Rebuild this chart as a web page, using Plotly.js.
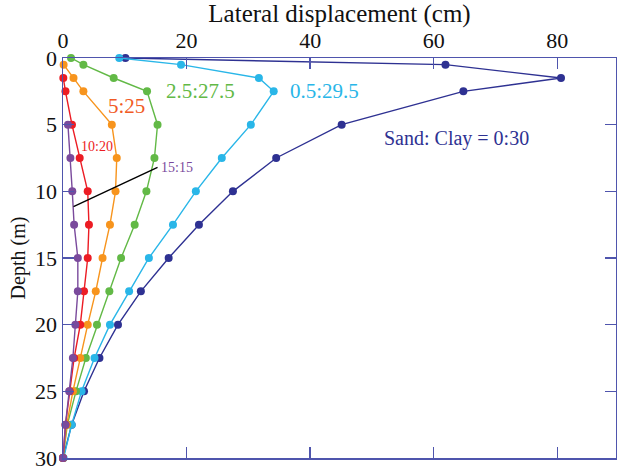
<!DOCTYPE html>
<html>
<head>
<meta charset="utf-8">
<script src="https://cdn.plot.ly/plotly-3.0.1.min.js"></script>
<style>
  html, body { margin: 0; padding: 0; background: #fff; }
  #chart { width: 617px; height: 473px; }
</style>
</head>
<body>
<div id="chart"></div>
<script>
// Depth below ground surface (m) at which lateral displacement was evaluated
const depth = [0, 0.5, 1.5, 2.5, 5, 7.5, 10, 12.5, 15, 17.5, 20, 22.5, 25, 27.5, 30];

// Lateral displacement (cm) for each sand:clay ratio
const disp_0_30    = [10.1, 61.9, 80.6, 64.8, 45.1, 34.5, 27.5, 22.0, 17.1, 12.6, 8.9, 5.9, 3.4, 1.4, 0];
const disp_05_295  = [9.1, 19.1, 31.7, 34.1, 30.4, 25.7, 21.5, 17.8, 13.9, 10.7, 7.6, 5.1, 3.0, 1.4, 0.1];
const disp_25_275  = [1.3, 3.3, 8.2, 13.6, 15.3, 14.8, 13.5, 11.6, 9.4, 7.5, 5.5, 3.7, 2.1, 0.7, 0];
const disp_5_25    = [null, 0.1, 1.7, 3.3, 7.9, 8.7, 8.5, 7.6, 6.4, 5.3, 4.0, 2.8, 1.6, 0.6, 0];
const disp_10_20   = [null, null, 0.05, 0.4, 1.45, 2.7, 4.0, 4.2, 4.0, 3.4, 2.8, 1.8, 1.1, 0.4, 0];
const disp_15_15   = [null, null, null, null, 0.8, 1.2, 1.5, 1.8, 2.4, 2.4, 2.0, 1.6, 1.0, 0.4, 0];

const seriesNames  = ["Sand: Clay = 0:30", "0.5:29.5", "2.5:27.5", "5:25", "10:20", "15:15"];
const xTicks = [0, 20, 40, 60, 80];
const yTicks = [0, 5, 10, 15, 20, 25, 30];

const colors = {
  navy:   "#2e3192",
  cyan:   "#29b6e8",
  green:  "#62b946",
  orange: "#f7941d",
  red:    "#ec1c24",
  purple: "#7a4a9c",
  axis:   "#4f55ad"
};

function profile(x, name, color) {
  return {
    type: "scatter",
    mode: "lines+markers",
    x: x,
    y: depth,
    name: name,
    line: { color: color, width: 1.4 },
    marker: { color: color, size: 8 },
    cliponaxis: false,
    showlegend: false
  };
}

// Drawn back to front so the stiffer profiles sit on top near the axis
const data = [
  profile(disp_0_30,   seriesNames[0], colors.navy),
  profile(disp_05_295, seriesNames[1], colors.cyan),
  profile(disp_25_275, seriesNames[2], colors.green),
  profile(disp_5_25,   seriesNames[3], colors.orange),
  profile(disp_10_20,  seriesNames[4], colors.red),
  profile(disp_15_15,  seriesNames[5], colors.purple)
];

const serif = "Liberation Serif, Times New Roman, serif";

function label(text, x, y, color, size, xanchor) {
  return {
    text: text, x: x, y: y, xref: "x", yref: "y",
    showarrow: false, xanchor: xanchor || "center", yanchor: "middle",
    font: { family: serif, size: size, color: color }
  };
}

const layout = {
  width: 617,
  height: 473,
  margin: { l: 63, r: 1, t: 58, b: 15 },
  paper_bgcolor: "#ffffff",
  plot_bgcolor: "#ffffff",
  font: { family: serif, color: "#111" },
  xaxis: {
    side: "top",
    range: [0, 89.5],
    tickvals: xTicks,
    ticktext: xTicks.map(String),
    ticks: "inside",
    ticklen: 11,
    tickwidth: 1.5,
    tickcolor: colors.axis,
    showline: true,
    linecolor: colors.axis,
    linewidth: 1.5,
    mirror: "ticks",
    showgrid: false,
    zeroline: false,
    tickfont: { family: serif, size: 22, color: "#111" },
    title: { text: "Lateral displacement (cm)", font: { family: serif, size: 25, color: "#111" }, standoff: 0 }
  },
  yaxis: {
    range: [30, 0],
    tickvals: yTicks,
    ticktext: yTicks.map(String),
    ticks: "inside",
    ticklen: 11,
    tickwidth: 1.5,
    tickcolor: colors.axis,
    showline: true,
    linecolor: colors.axis,
    linewidth: 1.5,
    mirror: "ticks",
    showgrid: false,
    zeroline: false,
    tickfont: { family: serif, size: 22, color: "#111" },
    title: { text: "Depth (m)", font: { family: serif, size: 20, color: "#111" }, standoff: 4 }
  },
  annotations: [
    label(seriesNames[0], 63.7, 6.0, colors.navy, 20),
    label(seriesNames[1], 42.3, 2.5, colors.cyan, 21),
    label(seriesNames[2], 22.3, 2.5, colors.green, 21),
    label(seriesNames[3], 10.2, 3.6, "#f15a24", 21),
    label(seriesNames[4], 5.5, 6.6, colors.red, 14),
    label(seriesNames[5], 15.6, 8.2, colors.purple, 14, "left")
  ],
  shapes: [
    // leader from the 15:15 label down to its profile
    { type: "line", xref: "x", yref: "y", x0: 1.7, y0: 11.15, x1: 15.3, y1: 8.2,
      line: { color: "#000", width: 1.4 } }
  ]
};

Plotly.newPlot("chart", data, layout, { displayModeBar: false, staticPlot: true });
</script>
</body>
</html>
